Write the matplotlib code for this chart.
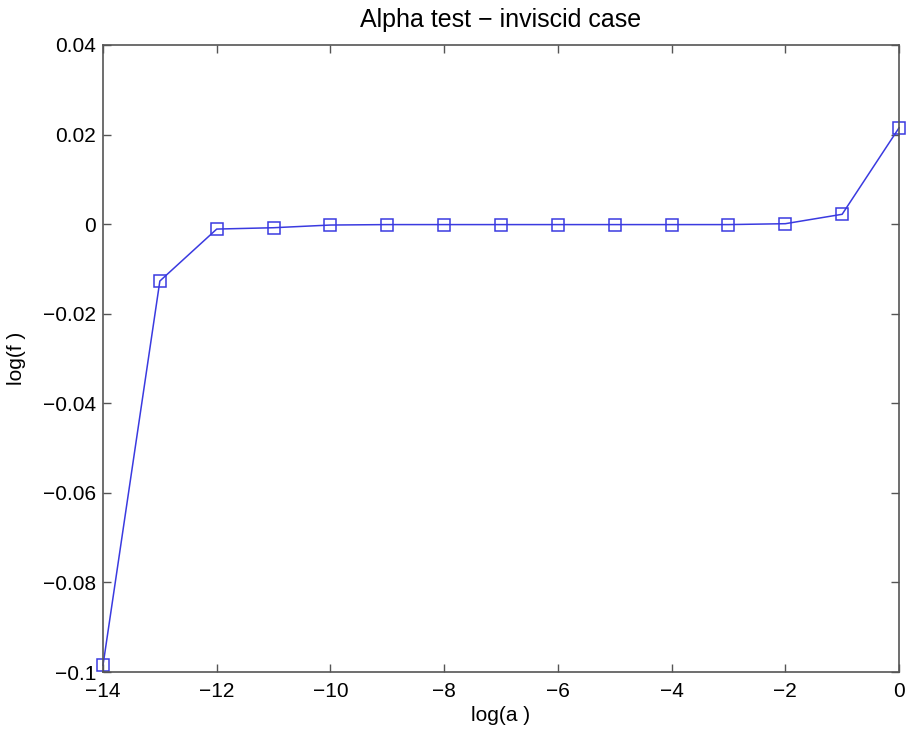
import matplotlib
matplotlib.use("Agg")
import matplotlib.pyplot as plt

plt.rcParams['font.family'] = ['Liberation Sans', 'DejaVu Sans']

log_a = [-14, -13, -12, -11, -10, -9, -8, -7, -6, -5, -4, -3, -2, -1, 0]
log_f = [-0.0985, -0.0127, -0.0011, -0.0008, -0.0002, -0.0001, -0.0001,
         -0.0001, -0.0001, -0.0001, -0.0001, -0.0001, 0.0001, 0.0022, 0.0215]

fig = plt.figure(figsize=(9.08, 7.33), dpi=100)
ax = fig.add_axes([103 / 908, 1 - 672 / 733, 796 / 908, 627 / 733])

ax.plot(log_a, log_f, color='#3a3ae0', linewidth=1.1, marker='s',
        markersize=9, markerfacecolor='none', markeredgecolor='#3a3ae0',
        markeredgewidth=1.1, clip_on=False)

ax.set_xlim(-14, 0)
ax.set_ylim(-0.1, 0.04)
ax.set_xticks(range(-14, 1, 2))
ax.set_yticks([-0.1, -0.08, -0.06, -0.04, -0.02, 0, 0.02, 0.04])
ax.set_xticklabels(['\u221214', '\u221212', '\u221210', '\u22128', '\u22126',
                    '\u22124', '\u22122', '0'])
ax.set_yticklabels(['\u22120.1', '\u22120.08', '\u22120.06', '\u22120.04',
                    '\u22120.02', '0', '0.02', '0.04'])
ax.tick_params(direction='in', top=True, right=True, length=6, width=1,
               color='#555555', labelsize=15)
ax.tick_params(axis='x', pad=7)
ax.tick_params(axis='y', pad=5)
for s in ax.spines.values():
    s.set_color('#555555')
    s.set_linewidth(1.2)

ax.set_xlabel('log(a )', fontsize=15, labelpad=4)
ax.set_ylabel('log(f )', fontsize=15, labelpad=12)
ax.set_title('Alpha test \u2212 inviscid case', fontsize=18, pad=13)

fig.savefig('out.png', dpi=100)
